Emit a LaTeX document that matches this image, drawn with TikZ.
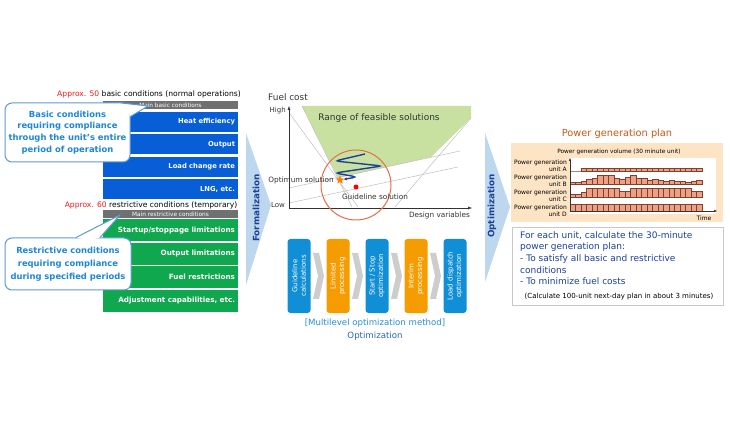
\documentclass[tikz,border=0pt]{standalone}
\usepackage{fontspec}
\setmainfont{DejaVu Sans}
\usetikzlibrary{positioning, calc, arrows.meta, shapes.geometric}

\definecolor{condblue}{RGB}{8,94,214}
\definecolor{condgreen}{RGB}{16,168,78}
\definecolor{headgray}{RGB}{112,112,112}
\definecolor{calloutline}{RGB}{91,155,213}
\definecolor{callouttext}{RGB}{30,134,214}
\definecolor{approxred}{RGB}{230,30,30}
\definecolor{arrowblue}{RGB}{189,215,238}
\definecolor{darkblue}{RGB}{31,64,150}
\definecolor{feasgreen}{RGB}{200,225,160}
\definecolor{guidegray}{RGB}{190,190,190}
\definecolor{chartgray}{RGB}{50,50,50}
\definecolor{circlered}{RGB}{230,110,70}
\definecolor{flowblue}{RGB}{16,142,214}
\definecolor{floworange}{RGB}{245,157,0}
\definecolor{chevgray}{RGB}{205,205,205}
\definecolor{methodblue}{RGB}{40,140,210}
\definecolor{methoddark}{RGB}{40,100,180}
\definecolor{planbeige}{RGB}{252,228,196}
\definecolor{planbrown}{RGB}{197,90,17}
\definecolor{boxgray}{RGB}{200,200,200}
\definecolor{barfill}{RGB}{240,160,130}
\definecolor{barline}{RGB}{125,65,50}

\begin{document}
\begin{tikzpicture}[x=1pt,y=-1pt,
  every node/.style={inner sep=1pt},
  header/.style={rectangle,fill=headgray,text=white,minimum width=135pt,minimum height=8pt,inner sep=0pt,font=\fontsize{5.8}{6}\selectfont},
  basicrow/.style={rectangle,fill=condblue,text=white,text width=129pt,align=right,minimum height=20pt,inner sep=3pt,font=\bfseries\fontsize{6.8}{8}\selectfont},
  restrrow/.style={basicrow,fill=condgreen,minimum height=22pt,font=\bfseries\fontsize{7.2}{8}\selectfont},
  approxtext/.style={font=\fontsize{7.6}{9}\selectfont},
  callbox/.style={rectangle,rounded corners=7pt,draw=calloutline,line width=1pt,fill=white,text=callouttext,align=center,inner sep=0pt,font=\bfseries\fontsize{8.4}{11.8}\selectfont},
  callline/.style={draw=calloutline,line width=1pt,line join=round},
  arrowtext/.style={rotate=90,text=darkblue,font=\bfseries\fontsize{8.8}{10}\selectfont},
  chartlabel/.style={text=chartgray,font=\fontsize{7.3}{8}\selectfont},
  guideline/.style={draw=guidegray,line width=0.5pt},
  stepbox/.style={rectangle,rounded corners=3pt,rotate=90,minimum width=74pt,minimum height=23pt,inner sep=0pt,text=white,align=center,font=\fontsize{7}{8.5}\selectfont},
  unitlabel/.style={anchor=east,align=right,inner sep=0pt,font=\fontsize{6}{6.6}\selectfont},
  loadbar/.style={fill=barfill,draw=barline,line width=0.4pt}]
\useasboundingbox (0,0) rectangle (730,427);
%
% basic conditions
  \node(approxbasic)[approxtext] at (149,94){\textcolor{approxred}{Approx. 50} basic conditions (normal operations)};
  \node(mainbasic)[header] at (170.5,105.5){Main basic conditions};
  \node(heat)[basicrow,below=2pt of mainbasic]{Heat efficiency};
  \node(output)[basicrow,below=2pt of heat]{Output};
  \node(loadrate)[basicrow,below=2pt of output]{Load change rate};
  \node(lng)[basicrow,below=2pt of loadrate]{LNG, etc.};
%
% restrictive conditions
  \node(approxrestr)[approxtext] at (151,205){\textcolor{approxred}{Approx. 60} restrictive conditions (temporary)};
  \node(mainrestr)[header] at (170.5,214){Main restrictive conditions};
  \node(startup)[restrrow,below=1pt of mainrestr]{Startup/stoppage limitations};
  \node(outlim)[restrrow,below=1pt of startup]{Output limitations};
  \node(fuelrestr)[restrrow,below=1pt of outlim]{Fuel restrictions};
  \node(adjust)[restrrow,below=1pt of fuelrestr]{Adjustment capabilities, etc.};
%
% callouts
  \node(callbasic)[callbox,minimum width=125pt,minimum height=59pt] at (67.5,132.5){Basic conditions\\requiring compliance\\through the unit’s entire\\period of operation};
  \coordinate(basictip) at (148,106);
  \fill[white]($(callbasic.north east)+(-14,0)$)--(basictip)--($(callbasic.north east)+(0,14)$)--($(callbasic.north east)+(-5,5)$)--cycle;
  \draw[callline]($(callbasic.north east)+(-14,0)$)--(basictip)--($(callbasic.north east)+(0,14)$);
  \node(callrestr)[callbox,minimum width=126pt,minimum height=52pt,font=\bfseries\fontsize{8.4}{13}\selectfont] at (68,264){Restrictive conditions\\requiring compliance\\during specified periods};
  \coordinate(restrtip) at (120,215);
  \fill[white]($(callrestr.north)+(8,0)$)--(restrtip)--($(callrestr.north)+(32,0)$)--($(callrestr.north)+(20,3)$)--cycle;
  \draw[callline]($(callrestr.north)+(8,0)$)--(restrtip)--($(callrestr.north)+(32,0)$);
%
% big arrows
  \fill[arrowblue](246,133)--(271,205)--(246,285)--cycle;
  \node(formal)[arrowtext] at (256,208){Formalization};
  \fill[arrowblue](485,133)--(510,207)--(485,282)--cycle;
  \node(optimiz)[arrowtext] at (492,206){Optimization};
%
% fuel cost chart
  \fill[feasgreen](302,106)--(471,106)--(471,118)--(431,157)--(338,178)--cycle;
  \draw[guideline](290,114)--(358,207);
  \draw[guideline](302,106)--(352,207);
  \draw[guideline](289,188)--(460,151);
  \draw[guideline](289,203)--(458,167);
  \draw[guideline](395,207)--(471,118);
  \coordinate(origin) at (289,208);
  \coordinate(ytop) at (289,106);
  \coordinate(xend) at (472,208);
  \draw[chartgray,-{Latex[length=4pt,width=3pt]}](origin)--(ytop);
  \draw[chartgray,-{Latex[length=4pt,width=3pt]}](origin)--(xend);
  \node(fuelcost)[chartlabel,font=\fontsize{8.9}{10}\selectfont] at (288,97){Fuel cost};
  \node(high)[chartlabel,anchor=east,font=\fontsize{7}{8}\selectfont] at (287,111){High};
  \node(low)[chartlabel,anchor=east,font=\fontsize{7}{8}\selectfont] at (286,205){Low};
  \node(designvar)[chartlabel,anchor=north east] at (471,211){Design variables};
  \node(feasible)[chartlabel,font=\fontsize{9}{10}\selectfont] at (379,118){Range of feasible solutions};
  \node(searchcircle)[circle,draw=circlered,line width=1pt,minimum size=70pt] at (356,185){};
  \node(guidedot)[circle,fill=red,minimum size=5pt,inner sep=0pt] at (356,187){};
  \node(optstar)[star,star points=5,star point ratio=2.2,fill=orange,minimum size=9pt,inner sep=0pt] at (340,180){};
  \draw[darkblue,line width=1.4pt,rounded corners=4pt,-{Latex[length=3pt,width=3.5pt]}](365,154)--(335,161)--(382,166)--(335,173)--(357,177)--(optstar);
  \node(optlabel)[chartlabel,anchor=east] at (335,180){Optimum solution};
  \node(guidelabel)[chartlabel] at (375,197){Guideline solution};
%
% multilevel steps
  \node(guide)[stepbox,fill=flowblue] at (299,276){Guideline\\calculations};
  \node(limited)[stepbox,fill=floworange] at (338,276){Limited\\processing};
  \node(startstop)[stepbox,fill=flowblue] at (377,276){Start / Stop\\optimization};
  \node(interim)[stepbox,fill=floworange] at (416,276){Interim\\processing};
  \node(dispatch)[stepbox,fill=flowblue] at (455,276){Load dispatch\\optimization};
  \foreach \x in {313,352,391,430}
    \fill[chevgray](\x,253)--(\x+6,253)--(\x+11,276)--(\x+6,299)--(\x,299)--(\x+5,276)--cycle;
  \node(method)[text=methodblue,font=\fontsize{8.6}{10}\selectfont] at (375,323){[Multilevel optimization method]};
  \node(methodopt)[text=methoddark,font=\fontsize{8.6}{10}\selectfont] at (375,336){Optimization};
%
% power generation plan
  \node(plantitle)[text=planbrown,font=\fontsize{9.8}{11}\selectfont] at (617,134){Power generation plan};
  \node(planpanel)[rectangle,fill=planbeige,minimum width=212pt,minimum height=79pt,inner sep=0pt] at (617,182.5){};
  \node(volume)[font=\fontsize{5.8}{7}\selectfont] at (619,152){Power generation volume (30 minute unit)};
  \node(chartarea)[rectangle,fill=white,minimum width=146pt,minimum height=56pt,inner sep=0pt] at (642.5,186){};
  \node(unitA)[unitlabel] at (567,166){Power generation\\unit A};
  \node(unitB)[unitlabel] at (567,180.5){Power generation\\unit B};
  \node(unitC)[unitlabel] at (567,195.5){Power generation\\unit C};
  \node(unitD)[unitlabel] at (567,210.5){Power generation\\unit D};
  \foreach \h [count=\i from 0] in {0,0,3,3,3,3,3,3,3,3,3,3,3,3,3,3,3,3,3,3,3,3,3,3}
    {\draw[loadbar](570+5.5*\i,171) rectangle ++(5.5,-\h);}
  \foreach \h [count=\i from 0] in {2,2,3,5,6,9,9,9,6,5,7,9,6,6,4,5,4,3,4,3,3,2,3,4}
    {\draw[loadbar](570+5.5*\i,184) rectangle ++(5.5,-\h);}
  \foreach \h [count=\i from 0] in {3,3,5,9,9,9,9,9,9,6,6,9,9,9,9,9,9,9,9,9,9,9,6,6}
    {\draw[loadbar](570+5.5*\i,197) rectangle ++(5.5,-\h);}
  \foreach \h [count=\i from 0] in {7,7,7,7,7,7,7,7,7,7,7,7,7,7,7,7,7,7,7,7,7,7,7,7}
    {\draw[loadbar](570+5.5*\i,211) rectangle ++(5.5,-\h);}
  \coordinate(porigin) at (570,211);
  \coordinate(ptop) at (570,158);
  \coordinate(pright) at (717,211);
  \draw[chartgray,-{Latex[length=3pt,width=2.5pt]}](porigin)--(ptop);
  \draw[chartgray,-{Latex[length=3pt,width=2.5pt]}](porigin)--(pright);
  \node(timelabel)[font=\fontsize{6}{7}\selectfont] at (704,218){Time};
%
  \node(planbox)[rectangle,draw=boxgray,fill=white,minimum width=211pt,minimum height=78pt,inner sep=0pt] at (617.5,266){};
  \node(plantext)[anchor=north west,align=left,text=darkblue,font=\fontsize{9}{11.7}\selectfont] at (519,230){For each unit, calculate the 30-minute\\power generation plan:\\- To satisfy all basic and restrictive\\conditions\\- To minimize fuel costs};
  \node(calcnote)[font=\fontsize{7}{8}\selectfont] at (619,297){(Calculate 100-unit next-day plan in about 3 minutes)};
\end{tikzpicture}
\end{document}
